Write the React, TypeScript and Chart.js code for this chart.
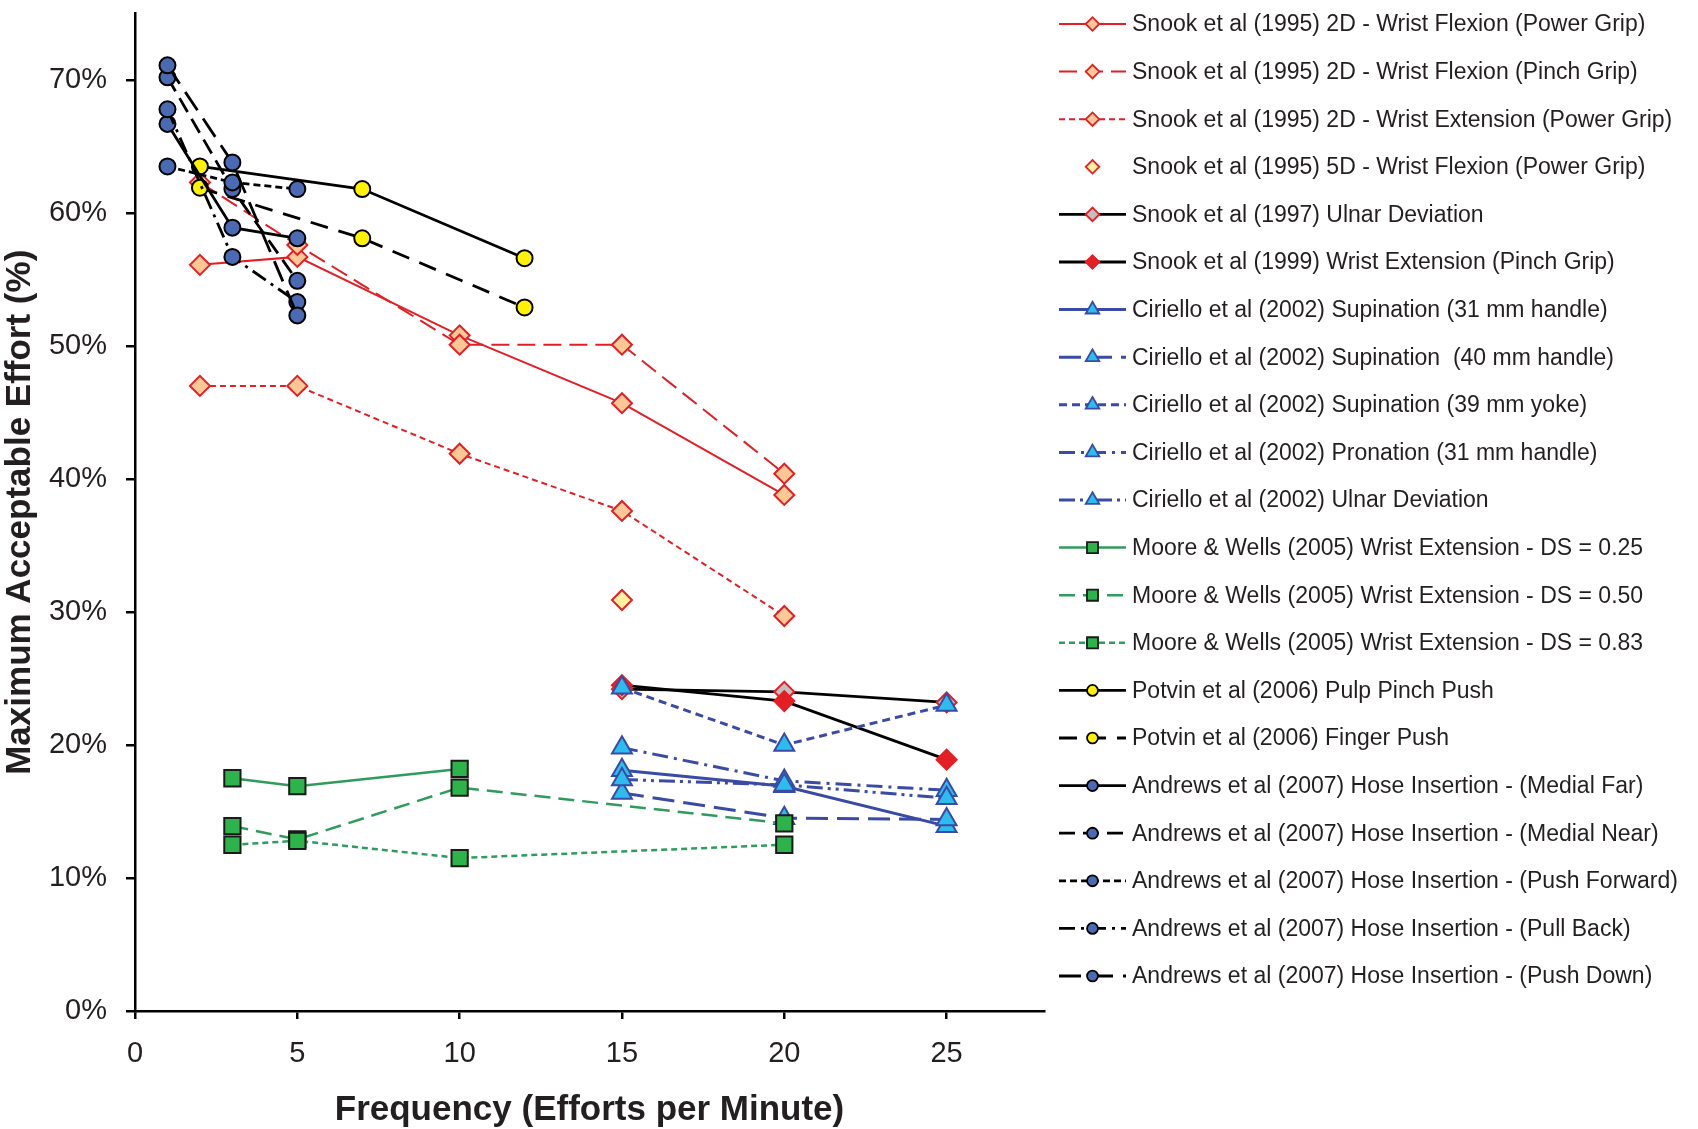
import { useEffect, useRef } from "react"
import { Chart, registerables } from "chart.js"
import { drawPoint } from "chart.js/helpers"

Chart.register(...registerables)

const W = 1698
const H = 1129
const FONT = "'Liberation Sans', Arial, Helvetica, sans-serif"
const TEXT = "#231f20"

// tick labels
const xTicks = [0, 5, 10, 15, 20, 25]
const yTicks = [0, 10, 20, 30, 40, 50, 60, 70]

// frequencies (efforts per minute)
const snookFreq = [2, 5, 10, 15, 20]
const snook5dFreq = [15]
const lateFreq = [15, 20, 25]
const mooreFreqShort = [3, 5, 10]
const mooreFreq = [3, 5, 10, 20]
const potvinFreq = [2, 7, 12]
const andrewsFreq = [1, 3, 5]

// maximum acceptable effort (%)
const snookFlexPower = [56.1, 56.7, 50.8, 45.7, 38.8]
const snookFlexPinch = [62.3, 57.6, 50.1, 50.1, 40.4]
const snookExtPower = [47.0, 47.0, 41.9, 37.6, 29.7]
const snook5dFlexPower = [30.9]
const snook1997Ulnar = [24.2, 24.0, 23.2]
const snook1999ExtPinch = [24.5, 23.3, 18.9]
const cirSup31 = [18.1, 16.9, 13.9]
const cirSup40 = [16.4, 14.5, 14.4]
const cirSup39 = [24.3, 20.0, 23.0]
const cirPron31 = [19.8, 17.3, 16.6]
const cirUlnar = [17.4, 17.0, 16.0]
const mooreDs025 = [17.5, 16.9, 18.2]
const mooreDs050 = [13.9, 12.9, 16.8, 14.1]
const mooreDs083 = [12.5, 12.8, 11.5, 12.5]
const potvinPulp = [63.5, 61.8, 56.6]
const potvinFinger = [61.9, 58.1, 52.9]
const andrewsMedialFar = [66.7, 58.9, 58.1]
const andrewsMedialNear = [70.2, 61.8, 54.9]
const andrewsPushForward = [63.5, 62.3, 61.8]
const andrewsPullBack = [67.8, 56.7, 53.3]
const andrewsPushDown = [71.1, 63.8, 52.3]

const RED = "#e31f26"
const PEACH = "#fdc796"
const PALE = "#fff3a0"
const GREY = "#c0c0c0"
const BLUE_LINE = "#3a4ba5"
const CYAN = "#2dbcee"
const GREEN_LINE = "#2f9c5e"
const GREEN = "#2cb34a"
const YELLOW = "#fff200"
const NAVY = "#4a6ab4"

type Look = {
  line: string
  width: number
  dash: number[]
  marker: string
  size: number
  fill: string
  edge: string
  edgeWidth: number
  showLine?: boolean
}

const diamond = (dash: number[], fill: string, line = RED): Look => ({
  line, width: 2, dash, marker: "rectRot", size: 10, fill, edge: RED, edgeWidth: 2,
})
const triangle = (dash: number[]): Look => ({
  line: BLUE_LINE, width: 3, dash, marker: "triangle", size: 11.5, fill: CYAN, edge: BLUE_LINE, edgeWidth: 2,
})
const square = (dash: number[]): Look => ({
  line: GREEN_LINE, width: 2.5, dash, marker: "rect", size: 11.5, fill: GREEN, edge: "#1a1a1a", edgeWidth: 2,
})
const circle = (dash: number[], fill: string): Look => ({
  line: "#000", width: 2.8, dash, marker: "circle", size: 8, fill, edge: "#000", edgeWidth: 2,
})

const series: { label: string; xs: number[]; ys: number[]; look: Look }[] = [
  { label: "Snook et al (1995) 2D - Wrist Flexion (Power Grip)", xs: snookFreq, ys: snookFlexPower, look: diamond([], PEACH) },
  { label: "Snook et al (1995) 2D - Wrist Flexion (Pinch Grip)", xs: snookFreq, ys: snookFlexPinch, look: diamond([18, 8], PEACH) },
  { label: "Snook et al (1995) 2D - Wrist Extension (Power Grip)", xs: snookFreq, ys: snookExtPower, look: diamond([6, 4], PEACH) },
  { label: "Snook et al (1995) 5D - Wrist Flexion (Power Grip)", xs: snook5dFreq, ys: snook5dFlexPower, look: { ...diamond([], PALE), showLine: false } },
  { label: "Snook et al (1997) Ulnar Deviation", xs: lateFreq, ys: snook1997Ulnar, look: { ...diamond([], GREY, "#000"), width: 2.8 } },
  { label: "Snook et al (1999) Wrist Extension (Pinch Grip)", xs: lateFreq, ys: snook1999ExtPinch, look: { ...diamond([], RED, "#000"), width: 2.8 } },
  { label: "Ciriello et al (2002) Supination (31 mm handle)", xs: lateFreq, ys: cirSup31, look: triangle([]) },
  { label: "Ciriello et al (2002) Supination  (40 mm handle)", xs: lateFreq, ys: cirSup40, look: triangle([22, 9]) },
  { label: "Ciriello et al (2002) Supination (39 mm yoke)", xs: lateFreq, ys: cirSup39, look: triangle([8, 5]) },
  { label: "Ciriello et al (2002) Pronation (31 mm handle)", xs: lateFreq, ys: cirPron31, look: triangle([16, 6, 3, 6]) },
  { label: "Ciriello et al (2002) Ulnar Deviation", xs: lateFreq, ys: cirUlnar, look: triangle([16, 5, 3, 5, 3, 5]) },
  { label: "Moore & Wells (2005) Wrist Extension - DS = 0.25", xs: mooreFreqShort, ys: mooreDs025, look: square([]) },
  { label: "Moore & Wells (2005) Wrist Extension - DS = 0.50", xs: mooreFreq, ys: mooreDs050, look: square([16, 8]) },
  { label: "Moore & Wells (2005) Wrist Extension - DS = 0.83", xs: mooreFreq, ys: mooreDs083, look: square([6, 4]) },
  { label: "Potvin et al (2006) Pulp Pinch Push", xs: potvinFreq, ys: potvinPulp, look: circle([], YELLOW) },
  { label: "Potvin et al (2006) Finger Push", xs: potvinFreq, ys: potvinFinger, look: circle([18, 11], YELLOW) },
  { label: "Andrews et al (2007) Hose Insertion - (Medial Far)", xs: andrewsFreq, ys: andrewsMedialFar, look: circle([], NAVY) },
  { label: "Andrews et al (2007) Hose Insertion - (Medial Near)", xs: andrewsFreq, ys: andrewsMedialNear, look: circle([16, 8], NAVY) },
  { label: "Andrews et al (2007) Hose Insertion - (Push Forward)", xs: andrewsFreq, ys: andrewsPushForward, look: circle([7, 4], NAVY) },
  { label: "Andrews et al (2007) Hose Insertion - (Pull Back)", xs: andrewsFreq, ys: andrewsPullBack, look: circle([16, 6, 3, 6], NAVY) },
  { label: "Andrews et al (2007) Hose Insertion - (Push Down)", xs: andrewsFreq, ys: andrewsPushDown, look: circle([22, 10], NAVY) },
]

// legend drawn at the right of the plot, one row per dataset
const sideLegend = {
  id: "sideLegend",
  afterDraw(chart: any) {
    const ctx: CanvasRenderingContext2D = chart.ctx
    const x0 = 1059
    const x1 = 1126
    const xm = (x0 + x1) / 2
    ctx.save()
    chart.data.datasets.forEach((ds: any, i: number) => {
      const y = 24 + i * 47.6
      if (ds.showLine !== false) {
        ctx.beginPath()
        ctx.setLineDash(ds.borderDash || [])
        ctx.strokeStyle = ds.borderColor
        ctx.lineWidth = ds.borderWidth
        ctx.moveTo(x0, y)
        ctx.lineTo(x1, y)
        ctx.stroke()
      }
      ctx.setLineDash([])
      ctx.fillStyle = ds.pointBackgroundColor
      ctx.strokeStyle = ds.pointBorderColor
      ctx.lineWidth = 1.8
      drawPoint(ctx, { pointStyle: ds.pointStyle, radius: ds.pointRadius * 0.68, rotation: 0, borderWidth: 1.8 } as any, xm, y)
      ctx.fillStyle = TEXT
      ctx.font = `23px ${FONT}`
      ctx.textAlign = "left"
      ctx.textBaseline = "middle"
      ctx.fillText(ds.label, 1132, y + 1)
    })
    ctx.restore()
  },
}

export default function App() {
  const canvasRef = useRef<HTMLCanvasElement>(null)

  useEffect(() => {
    if (!canvasRef.current) return
    const n = series.length
    const chart = new Chart(canvasRef.current, {
      type: "scatter",
      data: {
        datasets: series.map((s, i) => ({
          label: s.label,
          data: s.xs.map((x, j) => ({ x, y: s.ys[j] })),
          showLine: s.look.showLine !== false,
          borderColor: s.look.line,
          borderWidth: s.look.width,
          borderDash: s.look.dash,
          pointStyle: s.look.marker,
          pointRadius: s.look.size,
          pointHoverRadius: s.look.size,
          pointBackgroundColor: s.look.fill,
          pointBorderColor: s.look.edge,
          pointBorderWidth: s.look.edgeWidth,
          tension: 0,
          order: n - i,
        })),
      },
      options: {
        responsive: true,
        maintainAspectRatio: false,
        animation: false,
        layout: { padding: { top: 13, right: W - 1044, bottom: 0, left: 0 } },
        plugins: { legend: { display: false }, tooltip: { enabled: false } },
        scales: {
          x: {
            type: "linear",
            min: 0,
            max: 28,
            afterBuildTicks: (s: any) => {
              s.ticks = xTicks.map((v) => ({ value: v }))
            },
            afterFit: (s: any) => {
              s.height = H - 1011
              s.paddingLeft = 0
              s.paddingRight = 0
            },
            ticks: { font: { family: FONT, size: 29, lineHeight: 1 }, color: TEXT, padding: 20 },
            grid: { drawOnChartArea: false, color: "#000", lineWidth: 2.5, tickLength: 8 },
            border: { color: "#000", width: 2.5 },
            title: {
              display: true,
              text: "Frequency (Efforts per Minute)",
              color: TEXT,
              font: { family: FONT, size: 35, weight: "bold", lineHeight: 0.8 },
              padding: { top: 0, bottom: 5 },
            },
          },
          y: {
            type: "linear",
            min: 0,
            max: 75,
            afterBuildTicks: (s: any) => {
              s.ticks = yTicks.map((v) => ({ value: v }))
            },
            afterFit: (s: any) => {
              s.width = 135
              s.paddingTop = 0
              s.paddingBottom = 0
            },
            ticks: {
              font: { family: FONT, size: 29, lineHeight: 1 },
              color: TEXT,
              padding: 19,
              callback: (v: any) => `${v}%`,
            },
            grid: { drawOnChartArea: false, color: "#000", lineWidth: 2.5, tickLength: 9 },
            border: { color: "#000", width: 2.5 },
            title: {
              display: true,
              text: "Maximum Acceptable Effort (%)",
              color: TEXT,
              font: { family: FONT, size: 35, weight: "bold", lineHeight: 0.8 },
              padding: { top: 6, bottom: 0 },
            },
          },
        },
      },
      plugins: [sideLegend],
    })
    return () => chart.destroy()
  }, [])

  return (
    <div style={{ position: "absolute", left: 0, top: 0, width: W, height: H, background: "#fff" }}>
      <canvas ref={canvasRef} />
    </div>
  )
}
